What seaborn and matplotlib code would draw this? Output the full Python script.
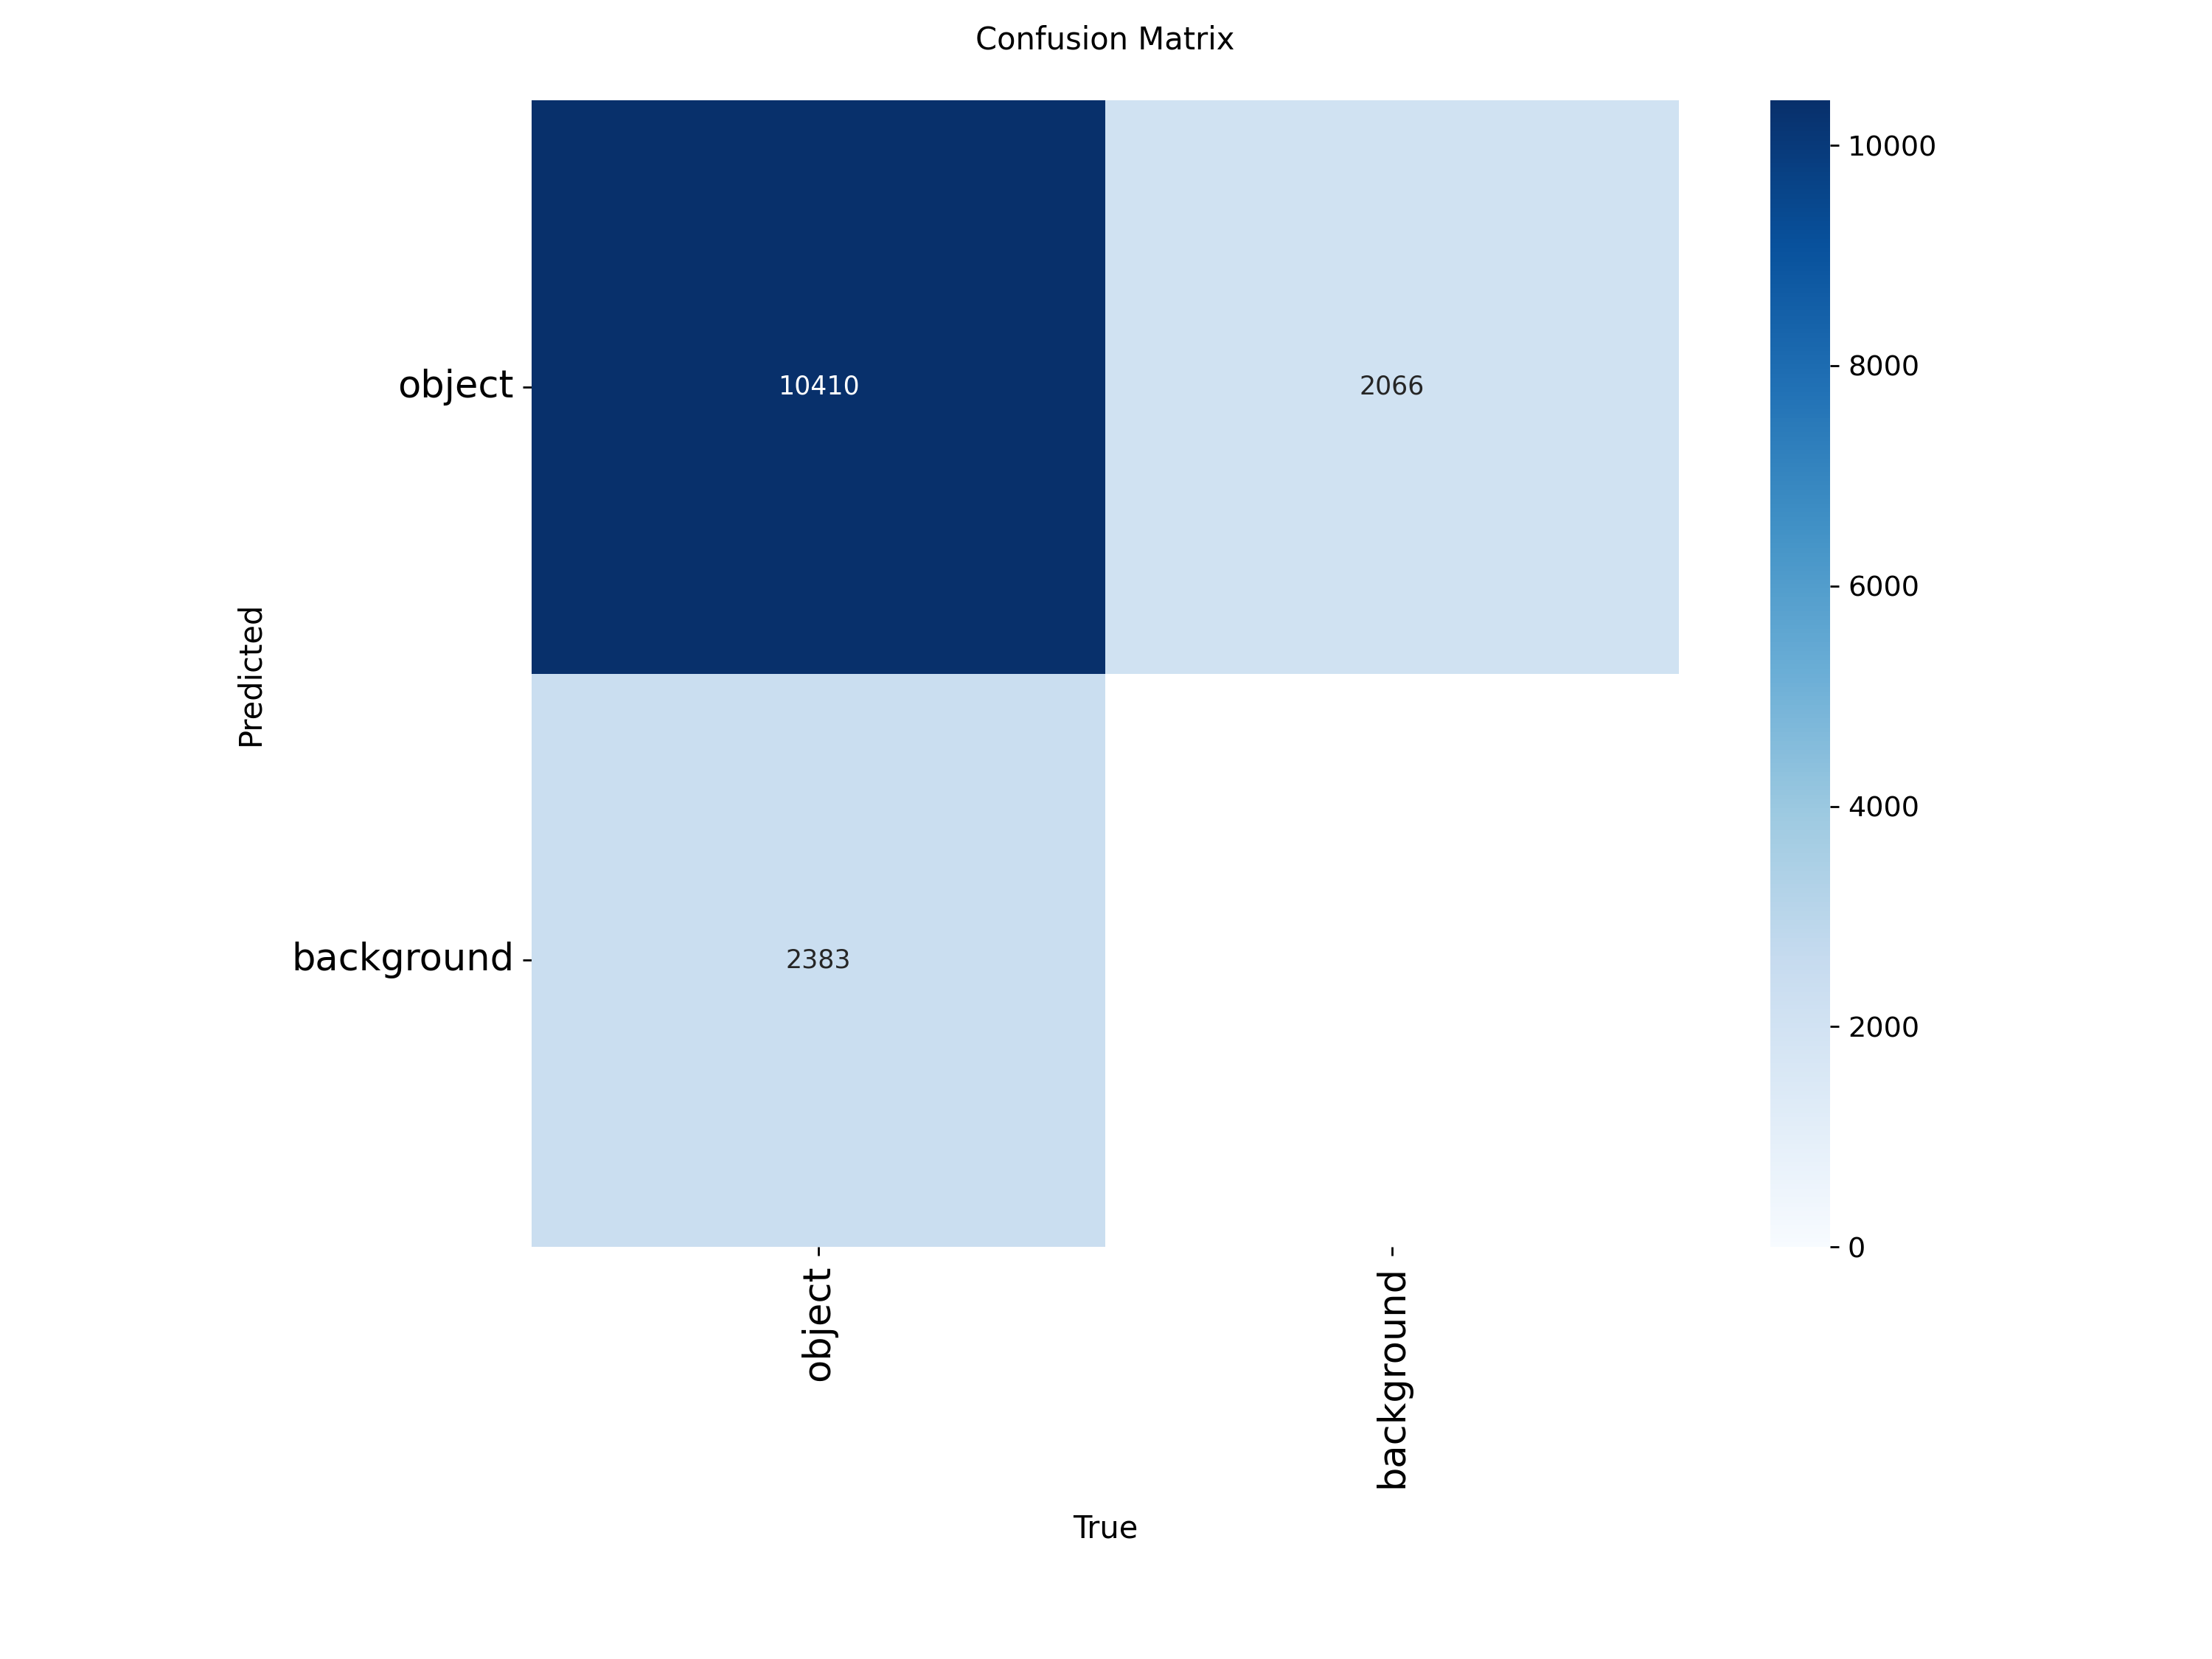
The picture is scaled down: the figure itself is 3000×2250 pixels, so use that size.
import numpy as np
import pandas as pd
import matplotlib
matplotlib.use("Agg")
import matplotlib.pyplot as plt
import seaborn as sns

# Confusion matrix counts (rows = predicted, columns = true)
labels = ["object", "background"]
row_object = [10410, 2066]
row_background = [2383, np.nan]  # background/background not counted

cm = pd.DataFrame([row_object, row_background], index=labels, columns=labels)

sns.set_theme(
    style="ticks",
    context="notebook",
    rc={
        "text.color": "black",
        "axes.labelcolor": "black",
        "xtick.color": "black",
        "ytick.color": "black",
        "xtick.major.size": 3.5,
        "ytick.major.size": 3.5,
        "xtick.major.width": 0.8,
        "ytick.major.width": 0.8,
    },
)
plt.rcParams["font.family"] = ["DejaVu Sans"]

fig = plt.figure(figsize=(12, 9))
ax = fig.add_axes([0.2404, 0.2483, 0.5186, 0.6913])
cax = fig.add_axes([0.8004, 0.2483, 0.0268, 0.6913])

sns.heatmap(
    cm,
    ax=ax,
    cbar_ax=cax,
    annot=True,
    annot_kws={"size": 10},
    cmap="Blues",
    fmt=".0f",
    square=True,
    vmin=0.0,
).set_facecolor((1, 1, 1))
ax.set_xlabel("True", labelpad=10)
ax.set_ylabel("Predicted", labelpad=10)
ax.set_title("Confusion Matrix", pad=20)
ax.set_xticklabels(ax.get_xticklabels(), rotation=90, fontsize=14.7)
ax.set_yticklabels(ax.get_yticklabels(), rotation=0, fontsize=14.7)

fig.savefig("out.png", dpi=250)
plt.close(fig)
